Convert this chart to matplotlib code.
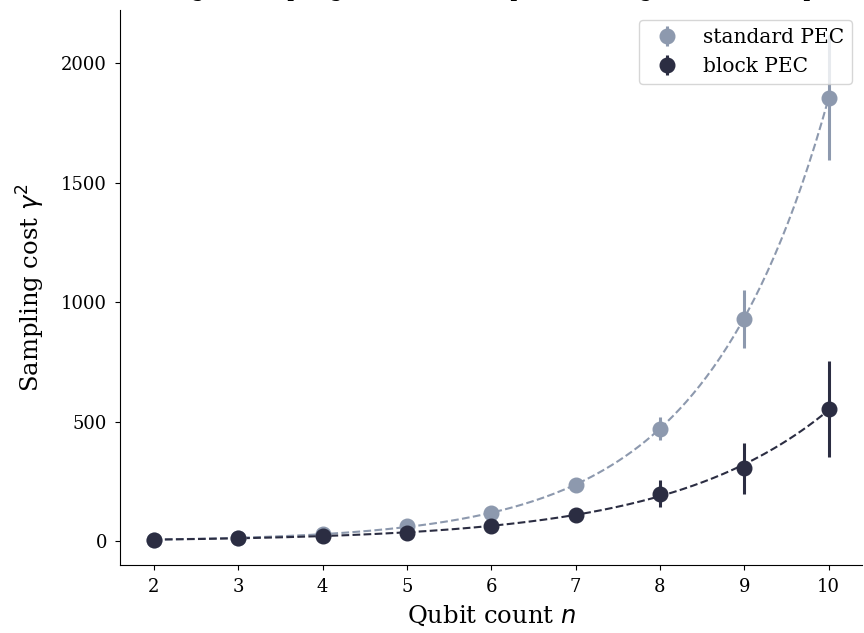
import numpy as np
import matplotlib.pyplot as plt

plt.rcParams['font.family'] = 'DejaVu Serif'

# qubit counts
n = np.array([2, 3, 4, 5, 6, 7, 8, 9, 10])

# sampling cost gamma^2
std_cost = np.array([7.5, 15, 31, 63, 121, 234, 472, 930, 1855])
std_err = np.array([1, 2, 4, 7, 12, 20, 48, 120, 260])
blk_cost = np.array([7, 14, 22, 37, 66, 112, 200, 305, 555])
blk_err = np.array([1, 2, 3, 6, 10, 18, 55, 105, 200])

c_std = '#8d99ae'
c_blk = '#2b2d42'

fig, ax = plt.subplots(figsize=(8.64, 6.33), dpi=100)
fig.subplots_adjust(left=0.139, right=0.998, bottom=0.107, top=0.984)

nn = np.linspace(n.min(), n.max(), 200)
for cost, err, col, lab in [(std_cost, std_err, c_std, 'standard PEC'),
                            (blk_cost, blk_err, c_blk, 'block PEC')]:
    # exponential fit a*b^n
    p = np.polyfit(n, np.log(cost), 1, w=np.sqrt(cost))
    ax.plot(nn, np.exp(np.polyval(p, nn)), '--', color=col, lw=1.5)
    ax.errorbar(n, cost, yerr=err, fmt='o', color=col, ms=10.5, elinewidth=2.2,
                label=lab)

# title sits mostly above the top edge, only descenders show
ax.set_title('Scaling of sampling overhead compared with gate-wise and pairs',
             fontsize=16, pad=10.5)
ax.set_xlabel('Qubit count $n$', fontsize=17.5, labelpad=5)
ax.set_ylabel(r'Sampling cost $\gamma^2$', fontsize=17.5, labelpad=10)
ax.tick_params(labelsize=13, pad=6)
ax.set_xticks(n)
ax.spines['top'].set_visible(False)
ax.spines['right'].set_visible(False)
ax.legend(loc='upper right', fontsize=14.5)

plt.savefig('out.png')
